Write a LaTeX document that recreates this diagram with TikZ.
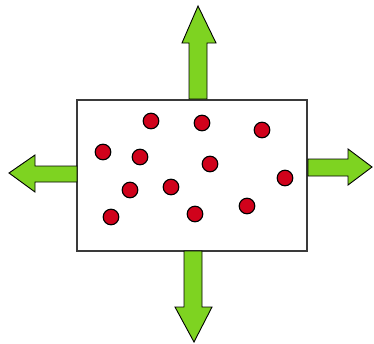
\documentclass[tikz,border=0pt]{standalone}
\definecolor{arrgreen}{HTML}{7ED321}
\definecolor{dotred}{HTML}{D0021B}
\definecolor{boxline}{HTML}{3A3A3A}
\begin{document}
\begin{tikzpicture}[x=1pt,y=-1pt,
  boxstyle/.style={draw=boxline,line width=1.3pt,fill=white},
  arrowstyle/.style={draw=black,line width=0.9pt,fill=arrgreen,line join=miter},
  dotstyle/.style={draw=black,line width=1.1pt,fill=dotred}]
\useasboundingbox (0,0) rectangle (374,343);
% box
\draw[boxstyle] (77,100) rectangle (307,251);
% top arrow
\draw[arrowstyle] (189,99) -- (189,43) -- (182,43) -- (198,6) -- (216,43) -- (207,43) -- (207,99) -- cycle;
% left arrow
\draw[arrowstyle] (77,166) -- (35,166) -- (35,155) -- (9,173) -- (35,192) -- (35,182) -- (77,182) -- cycle;
% right arrow
\draw[arrowstyle] (308,159) -- (348,159) -- (348,149) -- (372,167) -- (348,185) -- (348,176) -- (308,176) -- cycle;
% bottom arrow
\draw[arrowstyle] (184,251) -- (202,251) -- (202,307) -- (212,307) -- (194,342) -- (175,307) -- (184,307) -- cycle;
% dots
\foreach \p/\q in {151/121,202/123,262/130,103/152,140/157,210/164,285/178,130/190,171/187,111/217,195/214,247/206}
  \draw[dotstyle] (\p,\q) circle (7.8);
\end{tikzpicture}
\end{document}
